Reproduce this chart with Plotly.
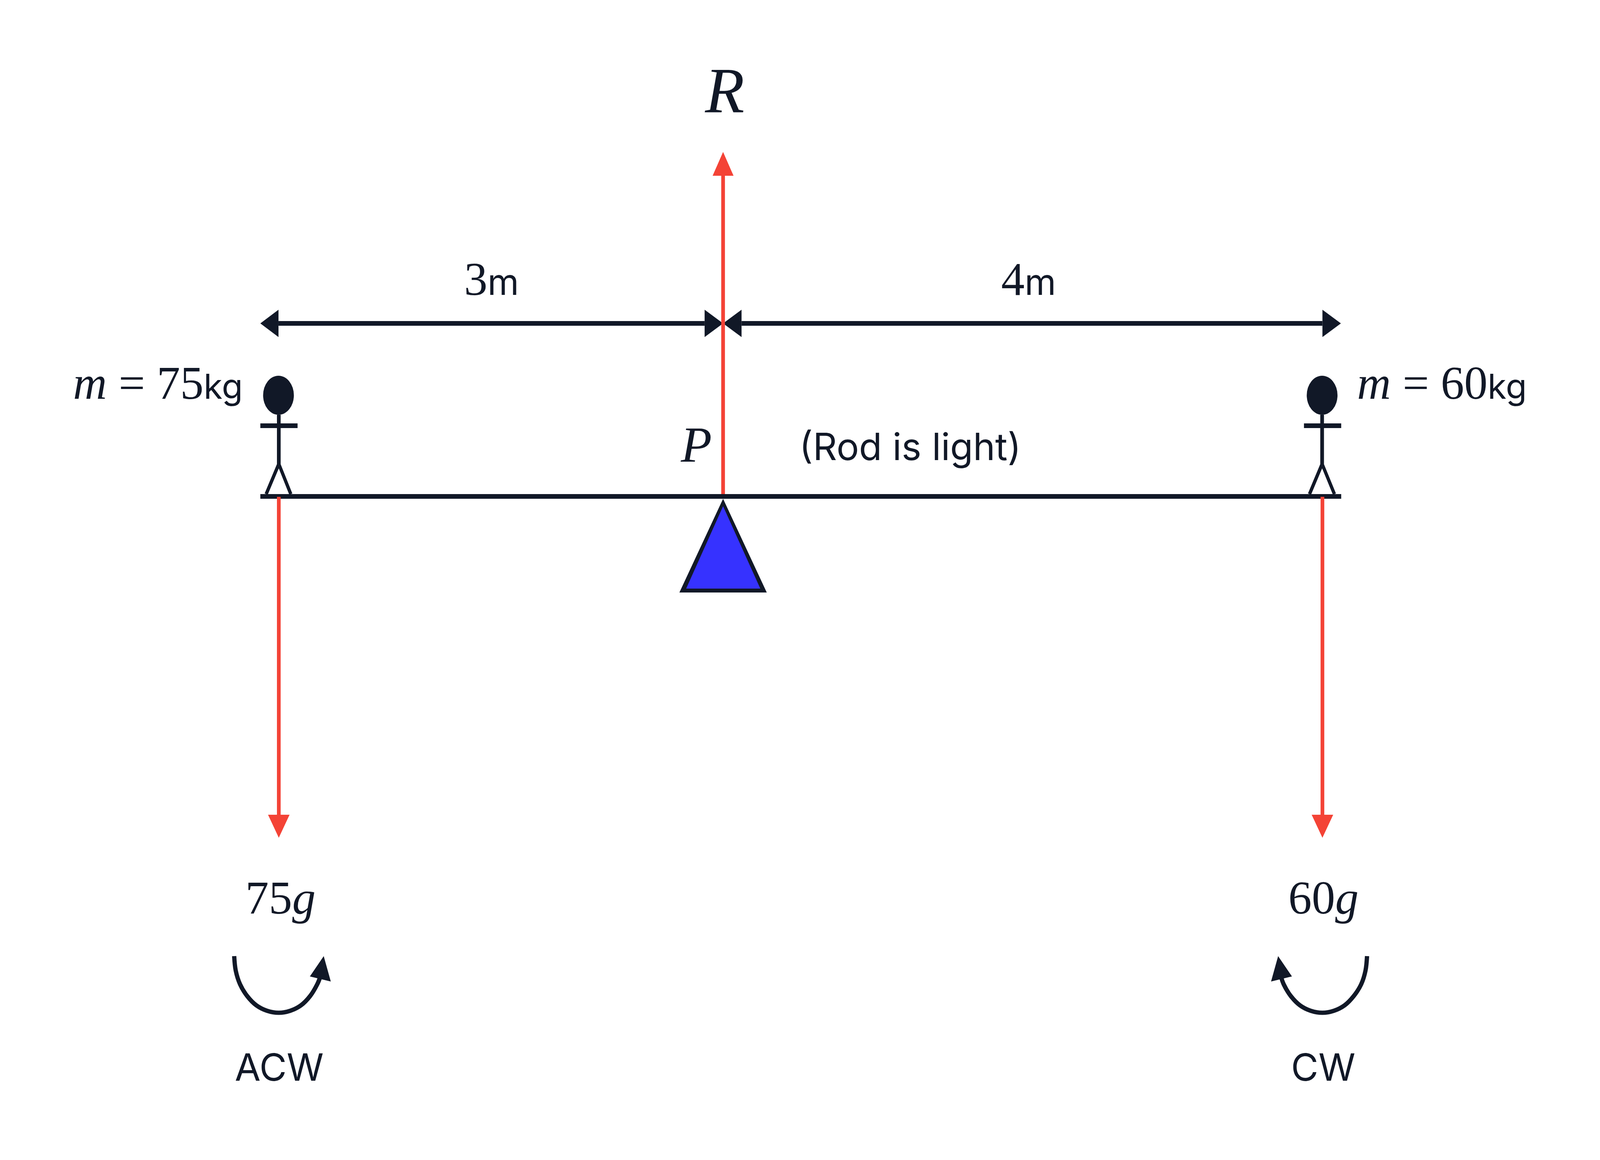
"""Moments on a light rod: two people either side of a pivot P."""
import plotly.graph_objects as go

INK = "#111827"
RED = "#f44336"
BLUE = "#3632ff"
MATH_FONT = "Liberation Serif"
TEXT_FONT = "Inter"

# geometry of the drawing (x right, y down)
rod_x = [846, 4359]
rod_y = [1271, 1271]
pivot_outer_x = [2350, 2208, 2492, 2350]
pivot_outer_y = [1277, 1517, 1517, 1277]
pivot_inner_x = [2350, 2230, 2471, 2350]
pivot_inner_y = [1296, 1507, 1507, 1296]

person_x = [906, 4297]
head_top = [962, 962]
head_bottom = [1062, 1062]
head_left = [855, 4247]
head_right = [955, 4347]
arm_left = [846, 4238]
arm_right = [967, 4359]
arm_y = [1090, 1090]
hip_y = [1188, 1188]
foot_left = [865, 4256]
foot_right = [945, 4337]
foot_y = [1265, 1265]

# red force arrows
force_x = [906, 2350, 4298]
force_start = [1272, 1265, 1272]
force_end = [2086, 450, 2086]
force_tip = [2145, 389, 2145]
force_half = [35, 34, 35]

# 3m and 4m dimension lines
dim_y = [828, 828]
dim_start = [905, 2410]
dim_end = [2290, 4298]
dim_head_left = [[905, 846], [2410, 2350]]
dim_head_right = [[2290, 2350], [4298, 4358]]
dim_half = 35

# moment arcs and their heads
acw_x = [761, 766, 780, 803, 833, 868, 906, 943, 978, 1008, 1031, 1039]
acw_y = [2448, 2485, 2520, 2550, 2574, 2588, 2593, 2588, 2574, 2550, 2520, 2505]
acw_head_x = [1052, 1075, 1007, 1052]
acw_head_y = [2448, 2513, 2500, 2448]
cw_x = [4443, 4438, 4424, 4400, 4370, 4335, 4298, 4260, 4225, 4195, 4172, 4165]
cw_y = [2448, 2485, 2520, 2550, 2574, 2588, 2593, 2588, 2574, 2550, 2520, 2505]
cw_head_x = [4154, 4131, 4199, 4154]
cw_head_y = [2448, 2513, 2500, 2448]

KG = f'<span style="font-family:{TEXT_FONT};font-size:88px">kg</span>'
M_UNIT = f'<span style="font-family:{TEXT_FONT};font-size:92px">m</span>'

# text, x, y, size, font
labels = [
    ("<i>R</i>", 2355, 232, 165, MATH_FONT),
    ("3" + M_UNIT, 1598, 714, 120, MATH_FONT),
    ("4" + M_UNIT, 3343, 714, 120, MATH_FONT),
    ("<i>m</i> = 75" + KG, 514, 980, 120, MATH_FONT),
    ("<i>m</i> = 60" + KG, 4686, 980, 120, MATH_FONT),
    ("<i>P</i>", 2262, 1138, 130, MATH_FONT),
    ("(Rod is light)", 2958, 1143, 96, TEXT_FONT),
    ("75<i>g</i>", 911, 2298, 120, MATH_FONT),
    ("60<i>g</i>", 4301, 2298, 120, MATH_FONT),
    ("ACW", 907, 2732, 96, TEXT_FONT),
    ("CW", 4301, 2732, 96, TEXT_FONT),
]


def add_line(fig, x, y, color=INK, width=12, shape="linear"):
    fig.add_trace(go.Scatter(
        x=x, y=y, mode="lines",
        line=dict(color=color, width=width, shape=shape),
        hoverinfo="skip", showlegend=False,
    ))


def add_head(fig, x, y, color=INK):
    fig.add_trace(go.Scatter(
        x=x, y=y, mode="lines", fill="toself", fillcolor=color,
        line=dict(color=color, width=0),
        hoverinfo="skip", showlegend=False,
    ))


fig = go.Figure()

# pivot and rod
add_head(fig, pivot_outer_x, pivot_outer_y)
add_head(fig, pivot_inner_x, pivot_inner_y, color=BLUE)
add_line(fig, rod_x, rod_y)

# stick figures (the page is narrower than the drawing, so uprights get a thinner stroke)
for i in range(2):
    add_line(fig, [person_x[i], person_x[i]], [head_bottom[i], hip_y[i]], width=9.5)
    add_line(fig, [arm_left[i], arm_right[i]], [arm_y[i], arm_y[i]])
    add_line(fig, [foot_left[i], person_x[i], foot_right[i]],
             [foot_y[i], hip_y[i], foot_y[i]], width=8.5)
    fig.add_shape(type="circle", xref="x", yref="y",
                  x0=head_left[i], x1=head_right[i],
                  y0=head_top[i], y1=head_bottom[i],
                  fillcolor=INK, line=dict(width=0))

# dimension arrows
for i in range(2):
    add_line(fig, [dim_start[i], dim_end[i]], dim_y)
    base, tip = dim_head_left[i]
    add_head(fig, [base, tip, base, base],
             [dim_y[0] - dim_half, dim_y[0], dim_y[0] + dim_half, dim_y[0] - dim_half])
    base, tip = dim_head_right[i]
    add_head(fig, [base, tip, base, base],
             [dim_y[0] - dim_half, dim_y[0], dim_y[0] + dim_half, dim_y[0] - dim_half])

# forces
for x, y0, y1, tip, half in zip(force_x, force_start, force_end, force_tip, force_half):
    add_line(fig, [x, x], [y0, y1], color=RED, width=9.5)
    add_head(fig, [x - half, x, x + half, x - half], [y1, tip, y1, y1], color=RED)

# moment arcs
add_line(fig, acw_x, acw_y, width=11, shape="spline")
add_head(fig, acw_head_x, acw_head_y)
add_line(fig, cw_x, cw_y, width=11, shape="spline")
add_head(fig, cw_head_x, cw_head_y)

for text, x, y, size, family in labels:
    fig.add_annotation(
        x=x, y=y, xref="x", yref="y", text=text, showarrow=False,
        xanchor="center", yanchor="middle",
        font=dict(family=family, size=size, color=INK),
    )

fig.update_layout(
    margin=dict(l=0, r=0, t=0, b=0),
    paper_bgcolor="white", plot_bgcolor="white",
    showlegend=False,
)
# ranges allow for the 8px body margin around the autosized plot
fig.update_xaxes(range=[10, 5190], visible=False)
fig.update_yaxes(range=[2962, 8], visible=False)

fig.write_html("out.html")
